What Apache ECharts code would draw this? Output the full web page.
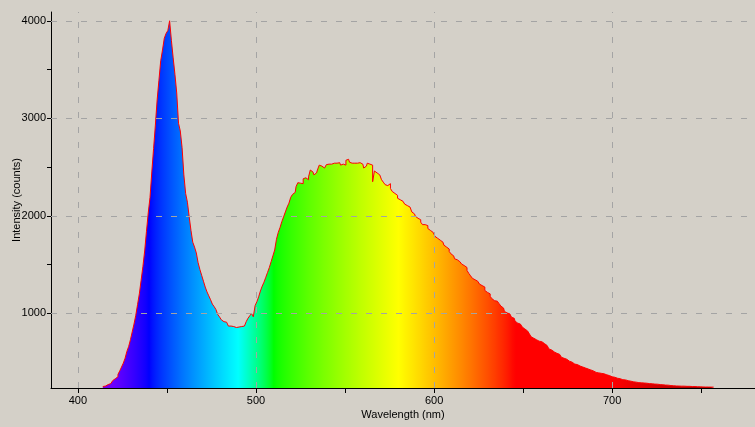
<!DOCTYPE html>
<html>
<head>
<meta charset="utf-8">
<script src="https://cdn.jsdelivr.net/npm/echarts@6/dist/echarts.min.js"></script>
<style>
html,body{margin:0;padding:0;background:#D4D0C8;}
#chart{width:755px;height:427px;}
</style>
</head>
<body>
<div id="chart"></div>
<script>
const startNm = 414;
const counts = [
250,255,262,270,280,295,310,330,350,375,410,450,490,540,610,660,730,810,890,980,
1090,1200,1340,1480,1640,1840,2030,2190,2450,2690,2930,3190,3390,3590,3700,3820,3870,3900,4000,3800,
3620,3450,3260,2950,2870,2700,2420,2230,2140,1990,1850,1730,1680,1620,1520,1450,1390,1330,1270,1220,
1180,1140,1095,1070,1040,990,965,935,915,910,895,870,870,865,860,855,860,865,865,870,
890,915,950,975,1000,965,1080,1120,1170,1230,1280,1320,1370,1420,1470,1530,1590,1650,1760,1830,
1880,1940,1990,2040,2090,2130,2190,2220,2240,2300,2340,2335,2330,2380,2390,2370,2400,2470,2450,2420,
2440,2470,2520,2510,2490,2500,2525,2530,2530,2540,2540,2540,2540,2545,2520,2530,2520,2570,2580,2550,
2540,2540,2545,2540,2545,2540,2530,2490,2510,2540,2530,2520,2350,2460,2440,2420,2400,2370,2345,2320,
2310,2330,2280,2250,2230,2210,2180,2165,2150,2130,2120,2105,2090,2070,2040,2020,1995,1975,1960,1935,
1910,1910,1900,1870,1850,1830,1820,1790,1770,1750,1740,1730,1700,1680,1660,1635,1610,1590,1560,1550,
1530,1515,1505,1490,1470,1440,1410,1385,1360,1345,1330,1310,1300,1285,1270,1235,1215,1200,1175,1150,
1130,1125,1115,1100,1075,1055,1020,1005,995,985,960,950,920,900,890,870,860,840,820,810,
790,760,745,730,720,715,710,695,690,670,655,635,625,605,600,590,580,565,550,540,
530,520,510,500,490,480,475,465,460,450,448,440,430,425,420,410,400,395,390,390,
385,380,375,370,362,355,350,345,342,335,330,325,320,318,315,310,305,300,298,295,
292,290,288,287,286,284,282,280,278,276,275,274,272,270,268,266,265,264,262,260,
258,256,256,255,255,254,254,253,252,252,251,250,250,249,248,247,247,246,245,245,
245,244,245,244
];
const xMajorTicks = [400, 500, 600, 700];
const xMinorTicks = [400, 450, 500, 550, 600, 650, 700, 750];
const yMajorTicks = [1000, 2000, 3000, 4000];
const yMinorTicks = [1000, 1500, 2000, 2500, 3000, 3500, 4000];

const wavelengths = counts.map((_, i) => startNm + i);
const seriesData = wavelengths.map((w, i) => [w, counts[i]]);

function specColor(w) {
  let r, g, b;
  if (w < 440) { r = -(w - 440) / 60; g = 0; b = 1; }
  else if (w < 490) { r = 0; g = (w - 440) / 50; b = 1; }
  else if (w < 510) { r = 0; g = 1; b = -(w - 510) / 20; }
  else if (w < 580) { r = (w - 510) / 70; g = 1; b = 0; }
  else if (w < 645) { r = 1; g = -(w - 645) / 65; b = 0; }
  else { r = 1; g = 0; b = 0; }
  let f = 1;
  if (w < 420) f = 0.3 + 0.7 * (w - 380) / 40;
  else if (w > 700) f = 0.3 + 0.7 * (780 - w) / 80;
  const c = v => Math.round(255 * Math.pow(Math.max(0, v * f), 0.8));
  return 'rgb(' + c(r) + ',' + c(g) + ',' + c(b) + ')';
}
const wFirst = wavelengths[0], wLast = wavelengths[wavelengths.length - 1];
const stops = [];
for (let w = wFirst; w <= wLast; w += 2) {
  stops.push({ offset: (w - wFirst) / (wLast - wFirst), color: specColor(w) });
}

const gridStyle = { color: '#A4A4A4', width: 1, type: [6, 9] };
const markData = xMajorTicks.map(v => ({ xAxis: v })).concat(yMajorTicks.map(v => ({ yAxis: v })));

const chart = echarts.init(document.getElementById('chart'), null, { renderer: 'canvas' });
chart.setOption({
  backgroundColor: '#D4D0C8',
  animation: false,
  textStyle: { fontFamily: 'Liberation Sans, Arial, sans-serif' },
  grid: { left: 51, right: 0, top: 12, bottom: 39, containLabel: false, outerBoundsMode: 'none' },
  xAxis: {
    type: 'value', min: 384.9, max: 780.2, interval: 50,
    name: 'Wavelength (nm)', nameLocation: 'middle', nameGap: 21, nameMoveOverlap: false,
    nameTextStyle: { color: '#000', fontSize: 11 },
    axisLine: { show: true, onZero: false, lineStyle: { color: '#000', width: 1 } },
    axisTick: { show: true, inside: false, length: 5, lineStyle: { color: '#000' }, customValues: xMinorTicks },
    axisLabel: { color: '#000', fontSize: 11, margin: 7, customValues: xMajorTicks,
      formatter: v => (v % 100 === 0 ? String(v) : '') },
    splitLine: { show: false }
  },
  yAxis: {
    type: 'value', min: 235, max: 4090, interval: 500,
    name: 'Intensity (counts)', nameLocation: 'middle', nameGap: 29, nameRotate: 90, nameMoveOverlap: false,
    nameTextStyle: { color: '#000', fontSize: 11 },
    axisLine: { show: true, lineStyle: { color: '#000', width: 1 } },
    axisTick: { show: true, inside: false, length: 4, lineStyle: { color: '#000' }, customValues: yMinorTicks },
    axisLabel: { color: '#000', fontSize: 11, margin: 5, customValues: yMajorTicks,
      formatter: v => (v % 1000 === 0 ? String(v) : '') },
    splitLine: { show: false }
  },
  series: [{
    type: 'line',
    data: seriesData,
    step: 'middle',
    symbol: 'none',
    lineStyle: { color: '#FF0000', width: 1 },
    areaStyle: {
      origin: 'start',
      opacity: 1,
      color: new echarts.graphic.LinearGradient(0, 0, 1, 0, stops)
    },
    markLine: {
      silent: true,
      symbol: ['none', 'none'],
      label: { show: false },
      lineStyle: gridStyle,
      data: markData
    }
  }]
});
</script>
</body>
</html>
